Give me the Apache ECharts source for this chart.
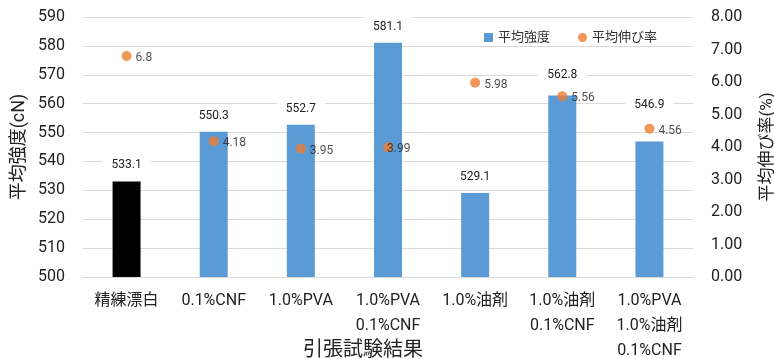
<!DOCTYPE html>
<html>
<head>
<meta charset="utf-8">
<script src="https://cdn.jsdelivr.net/npm/echarts@6/dist/echarts.min.js"></script>
<style>
  html, body { margin: 0; padding: 0; background: #fff; }
  #main { width: 774px; height: 359px; }
</style>
</head>
<body>
<div id="main"></div>
<script>
// カテゴリ（改行あり）
var categories = ['精練漂白', '0.1%CNF', '1.0%PVA', '1.0%PVA\n0.1%CNF', '1.0%油剤', '1.0%油剤\n0.1%CNF', '1.0%PVA\n1.0%油剤\n0.1%CNF'];
// 平均強度 (cN)
var strength = [533.1, 550.3, 552.7, 581.1, 529.1, 562.8, 546.9];
// 平均伸び率 (%)
var elongation = [6.8, 4.18, 3.95, 3.99, 5.98, 5.56, 4.56];
var barColors = ['#000000', '#5B9BD5', '#5B9BD5', '#5B9BD5', '#5B9BD5', '#5B9BD5', '#5B9BD5'];
// 点ラベルを避けるため、ラベルを少し上にずらす（元の図のとおり）
var barLabelGap = [6, 6, 6, 6, 6, 11, 27];

var FONT = "Roboto, 'Noto Sans CJK JP'";
var chart = echarts.init(document.getElementById('main'));

var barData = [];
for (var i = 0; i < strength.length; i++) {
  barData.push({
    value: strength[i],
    itemStyle: { color: barColors[i] },
    label: { distance: barLabelGap[i] }
  });
}
var dotData = [];
for (var j = 0; j < elongation.length; j++) {
  var d = { value: elongation[j] };
  // 3.99 のラベルは点に重なっている
  if (j === 3) d.label = { distance: -6 };
  dotData.push(d);
}

chart.setOption({
  animation: false,
  textStyle: { fontFamily: FONT },
  grid: { left: 83, right: 81, top: 17, bottom: 82, outerBoundsMode: 'none', containLabel: false },
  legend: {
    left: 479, top: 26,
    itemWidth: 9, itemHeight: 9, itemGap: 28, itemTextGap: 3,
    textStyle: { fontSize: 13, color: '#333', fontFamily: FONT },
    data: [
      { name: '平均強度', icon: 'rect' },
      { name: '平均伸び率', icon: 'circle' }
    ]
  },
  xAxis: {
    type: 'category',
    data: categories,
    name: '引張試験結果',
    nameLocation: 'middle',
    nameGap: 64,
    nameMoveOverlap: false,
    nameTextStyle: { fontSize: 20, color: '#222', padding: [0, 50, 0, 0] },
    axisLine: { lineStyle: { color: '#D9D9D9' } },
    axisTick: { show: false },
    axisLabel: { interval: 0, fontSize: 16, lineHeight: 25, margin: 11, color: '#222' }
  },
  yAxis: [{
    type: 'value',
    min: 500, max: 590, interval: 10,
    name: '平均強度(cN)',
    nameLocation: 'middle',
    nameRotate: 90,
    nameGap: 55,
    nameMoveOverlap: false,
    nameTextStyle: { fontSize: 18, color: '#222' },
    axisLine: { show: false },
    axisTick: { show: false },
    axisLabel: { fontSize: 16, margin: 18, color: '#222' },
    splitLine: { lineStyle: { color: '#D9D9D9' } }
  }, {
    type: 'value',
    min: 0, max: 8, interval: 1,
    name: '平均伸び率(%)',
    nameLocation: 'middle',
    nameRotate: 90,
    nameGap: 66,
    nameMoveOverlap: false,
    nameTextStyle: { fontSize: 17, color: '#222' },
    axisLine: { show: false },
    axisTick: { show: false },
    axisLabel: { fontSize: 16, margin: 18, color: '#222', formatter: function (v) { return v.toFixed(2); } },
    splitLine: { show: false }
  }],
  series: [{
    name: '平均強度',
    type: 'bar',
    yAxisIndex: 0,
    barWidth: 28,
    itemStyle: { color: '#5B9BD5' },
    label: {
      show: true, position: 'top',
      fontSize: 12, color: '#222',
      backgroundColor: '#fff', padding: [4, 9]
    },
    data: barData
  }, {
    name: '平均伸び率',
    type: 'scatter',
    yAxisIndex: 1,
    symbolSize: 10,
    itemStyle: { color: '#ED7D31' },
    label: {
      show: true, position: 'right', distance: 4, offset: [0, 2],
      fontSize: 12, color: '#222'
    },
    data: dotData
  }]
});
</script>
</body>
</html>
